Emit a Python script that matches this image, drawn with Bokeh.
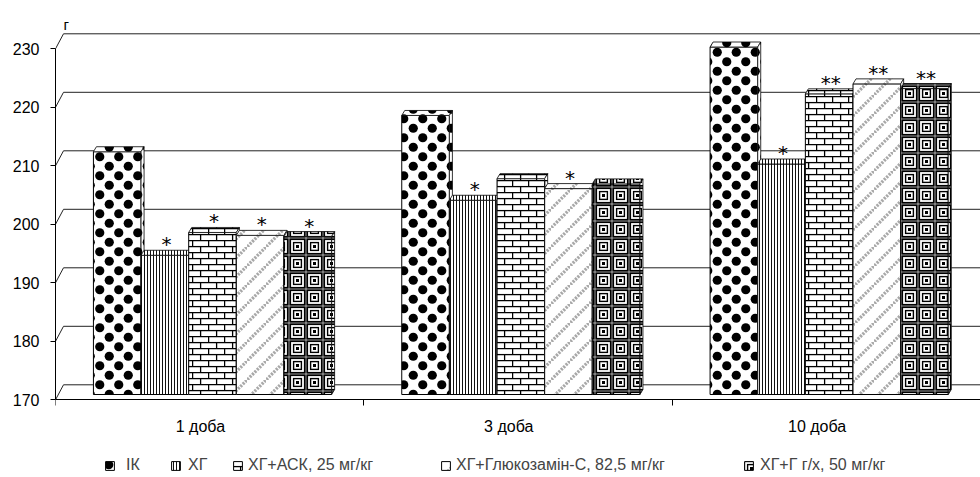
import base64
from bokeh.plotting import figure
from bokeh.models import (ColumnDataSource, ImageURLTexture, Legend, LegendItem,
                          FixedTicker, Label, Range1d)
from bokeh.embed import file_html
from bokeh.resources import INLINE

# ---------------- data ----------------
categories = ["1 доба", "3 доба", "10 доба"]
series_names = ["ІК", "ХГ", "ХГ+АСК, 25 мг/кг", "ХГ+Глюкозамін-С, 82,5 мг/кг", "ХГ+Г г/х, 50 мг/кг"]
ik_values = [211.5, 217.7, 229.4]
hg_values = [193.8, 203.2, 209.4]
ask_values = [197.7, 206.9, 221.4]
glc_values = [197.2, 205.2, 223.1]
ggx_values = [197.0, 206.0, 222.3]
ik_marks = ["", "", ""]
hg_marks = ["*", "*", "*"]
ask_marks = ["*", "", "**"]
glc_marks = ["*", "*", "**"]
ggx_marks = ["*", "", "**"]
y_ticks = [170, 180, 190, 200, 210, 220, 230]
y_unit = "г"

# ---------------- layout / style ----------------
W, H = 980, 477
FRAME_LEFT, FRAME_TOP = 55, 12
AXIS_PX = 399.3                       # pixel row of the value axis origin
N = len(categories)
PX_X = (W - FRAME_LEFT) / N           # px per category
Y0 = y_ticks[0]
PX_Y = 5.85                           # px per value unit
Y_START = Y0 - (H - AXIS_PX) / PX_Y
Y_END = Y0 + (AXIS_PX - FRAME_TOP) / PX_Y

FONT = "Liberation Sans"
BACK_DX, BACK_DY = 8 / PX_X, 15 / PX_Y     # depth of back wall
LIFT = 5.3 / PX_Y                           # bar front face lift (3D depth)
TOP_DX, TOP_DY = 3 / PX_X, 5 / PX_Y         # bar top face depth
GROUP_OFF = 0.123
BAR_W = 0.1545
LABEL_SHIFT = 0.47
STAR_GAP = 11 / PX_Y


def svg_url(svg):
    return "data:image/svg+xml;base64," + base64.b64encode(svg.encode()).decode()


textures = {
    "dots": ImageURLTexture(url=svg_url(
        "<svg xmlns='http://www.w3.org/2000/svg' width='19' height='19'>"
        "<rect width='19' height='19' fill='white'/>"
        "<circle cx='4.75' cy='4.75' r='4.6' fill='black'/>"
        "<circle cx='14.25' cy='14.25' r='4.6' fill='black'/></svg>"), repetition="repeat"),
    "vlines": ImageURLTexture(url=svg_url(
        "<svg xmlns='http://www.w3.org/2000/svg' width='3' height='3'>"
        "<rect width='3' height='3' fill='white'/>"
        "<rect x='0' y='0' width='1' height='3' fill='#111'/></svg>"), repetition="repeat"),
    "bricks": ImageURLTexture(url=svg_url(
        "<svg xmlns='http://www.w3.org/2000/svg' width='16' height='12'>"
        "<rect width='16' height='12' fill='white'/>"
        "<g stroke='black' stroke-width='1.3'>"
        "<line x1='0' y1='0.6' x2='16' y2='0.6'/><line x1='0' y1='6.6' x2='16' y2='6.6'/>"
        "<line x1='0.6' y1='0' x2='0.6' y2='6.6'/><line x1='8.6' y1='6.6' x2='8.6' y2='12'/>"
        "</g></svg>"), repetition="repeat"),
    "diag": ImageURLTexture(url=svg_url(
        "<svg xmlns='http://www.w3.org/2000/svg' width='19' height='19'>"
        "<rect width='19' height='19' fill='white'/>"
        "<g stroke='#a8a8a8' stroke-width='3.2' stroke-dasharray='2.2,1.2'>"
        "<line x1='-2' y1='21' x2='21' y2='-2'/></g></svg>"), repetition="repeat"),
    "squares": ImageURLTexture(url=svg_url(
        "<svg xmlns='http://www.w3.org/2000/svg' width='17' height='17'>"
        "<rect width='17' height='17' fill='white'/>"
        "<rect x='1.2' y='1.2' width='14.6' height='14.6' fill='none' stroke='black' stroke-width='1.8'/>"
        "<rect x='4.6' y='4.6' width='7.8' height='7.8' fill='none' stroke='black' stroke-width='1.4'/>"
        "<rect x='7' y='7' width='3' height='3' fill='black'/></svg>"), repetition="repeat"),
}
patterns = ["dots", "vlines", "bricks", "diag", "squares"]
all_values = [ik_values, hg_values, ask_values, glc_values, ggx_values]
all_marks = [ik_marks, hg_marks, ask_marks, glc_marks, ggx_marks]

p = figure(width=W, height=H, output_backend="svg", toolbar_location=None,
           x_range=Range1d(0, N), y_range=Range1d(Y_START, Y_END),
           min_border_left=FRAME_LEFT, min_border_right=0,
           min_border_top=FRAME_TOP, min_border_bottom=0,
           background_fill_color="white", border_fill_color="white")
p.outline_line_color = None
p.xgrid.visible = False
p.ygrid.visible = False

# back wall gridlines with slanted connectors
p.segment(x0=[0] * len(y_ticks), y0=y_ticks,
          x1=[BACK_DX] * len(y_ticks), y1=[v + BACK_DY for v in y_ticks],
          line_color="#222", line_width=1)
p.segment(x0=[BACK_DX] * len(y_ticks), y0=[v + BACK_DY for v in y_ticks],
          x1=[N] * len(y_ticks), y1=[v + BACK_DY for v in y_ticks],
          line_color="#222", line_width=1)

legend_renderers = []
for k, (name, vals, pat, marks) in enumerate(zip(series_names, all_values, patterns, all_marks)):
    left = [i + GROUP_OFF + k * BAR_W for i in range(N)]
    right = [l + BAR_W for l in left]
    bottom = [Y0 + LIFT] * N
    top = [v + LIFT for v in vals]
    src = ColumnDataSource(dict(left=left, right=right, bottom=bottom, top=top, pat=[pat] * N))
    r = p.quad(left="left", right="right", bottom="bottom", top="top", source=src,
               fill_color="white", line_color="black", line_width=1,
               hatch_pattern="pat", hatch_extra=textures)
    legend_renderers.append(r)
    top_xs = [[l, rr, rr + TOP_DX, l + TOP_DX] for l, rr in zip(left, right)]
    top_ys = [[t, t, t + TOP_DY, t + TOP_DY] for t in top]
    side_xs = [[rr, rr, rr + TOP_DX, rr + TOP_DX] for rr in right]
    side_ys = [[b, t, t + TOP_DY, b + TOP_DY] for b, t in zip(bottom, top)]
    p.patches(xs="xs", ys="ys", source=ColumnDataSource(dict(xs=top_xs, ys=top_ys, pat=[pat] * N)),
              fill_color="white", line_color="black", line_width=0.8,
              hatch_pattern="pat", hatch_extra=textures)
    p.patches(xs="xs", ys="ys", source=ColumnDataSource(dict(xs=side_xs, ys=side_ys, pat=[pat] * N)),
              fill_color="white", line_color="black", line_width=0.8,
              hatch_pattern="pat", hatch_extra=textures)
    sx = [(l + rr) / 2 + TOP_DX / 2 for l, rr in zip(left, right)]
    sy = [t + STAR_GAP for t in top]
    p.text(x=sx, y=sy, text=marks, text_align="center", text_baseline="middle",
           text_font={"value": "DejaVu Sans"}, text_font_size={"value": "20px"},
           text_color="#000000")

# axes
p.yaxis.ticker = FixedTicker(ticks=y_ticks)
p.yaxis.bounds = (Y0, y_ticks[-1])
p.yaxis.major_tick_out = 5
p.yaxis.major_tick_in = 0
p.yaxis.minor_tick_out = 0
p.yaxis.minor_tick_in = 0
p.yaxis.major_label_standoff = 11
p.yaxis.major_label_text_font = FONT
p.yaxis.major_label_text_font_size = "16px"
p.yaxis.major_label_text_color = "black"
p.yaxis.axis_line_color = "black"
p.yaxis.major_tick_line_color = "black"

label_pos = [i + LABEL_SHIFT for i in range(N)]
p.xaxis.fixed_location = Y0
p.xaxis.ticker = FixedTicker(ticks=label_pos, minor_ticks=list(range(N + 1)))
p.xaxis.major_label_overrides = {pos: c for pos, c in zip(label_pos, categories)}
p.xaxis.major_tick_out = 0
p.xaxis.major_tick_in = 0
p.xaxis.minor_tick_out = 6
p.xaxis.minor_tick_in = 0
p.xaxis.major_label_standoff = 12
p.xaxis.major_label_text_font = FONT
p.xaxis.major_label_text_font_size = "16px"
p.xaxis.major_label_text_color = "black"
p.xaxis.axis_line_color = "black"
p.xaxis.minor_tick_line_color = "black"

# unit label
p.add_layout(Label(x=BACK_DX, y=y_ticks[-1] + 4.15, text=y_unit,
                   text_font=FONT, text_font_size="15px", text_color="black",
                   text_baseline="alphabetic"))

# legend: one per series, positioned along the bottom of the frame
legend_x = [49, 115, 177, 385, 688]
legend_gap = [11, 7, 5, 5, 6]
for name, r, lx, gap in zip(series_names, legend_renderers, legend_x, legend_gap):
    lg = Legend(items=[LegendItem(label=name, renderers=[r])], location=(lx, 3),
                orientation="horizontal", padding=0, margin=0, spacing=0,
                glyph_width=11, glyph_height=11, label_standoff=gap,
                label_text_font=FONT, label_text_font_size="16px",
                label_height=12, border_line_color=None, background_fill_alpha=0)
    p.add_layout(lg, "center")

open("out.html", "w").write(file_html(p, INLINE))
